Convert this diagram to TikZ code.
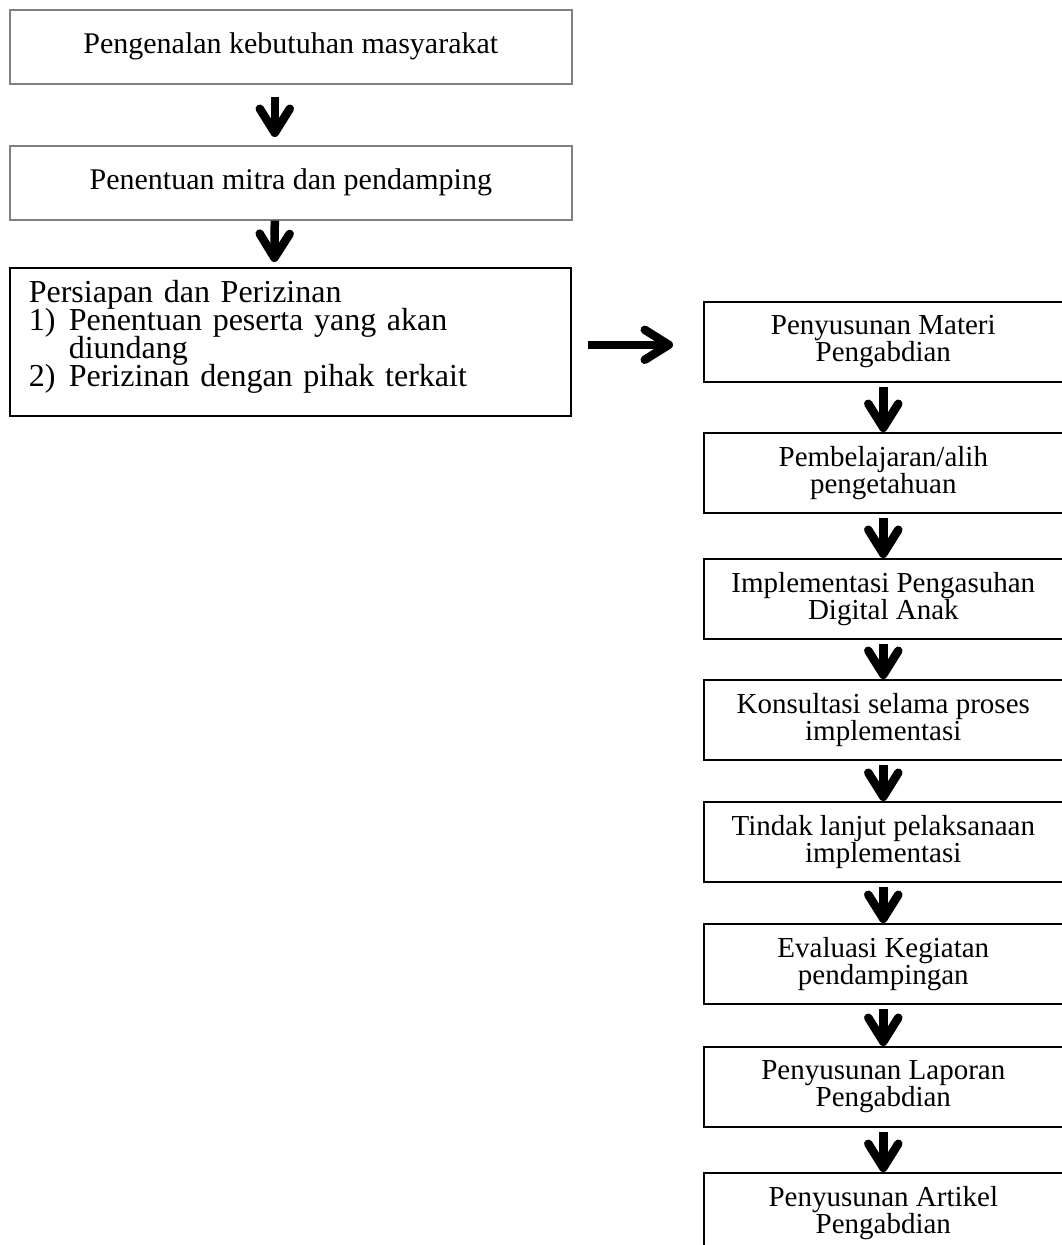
\documentclass[tikz,border=0pt]{standalone}
\usepackage{fontspec}
\setmainfont{Liberation Serif}
\usetikzlibrary{arrows.meta}
\newcommand{\tightlines}{\lineskiplimit=-20pt\relax}

\begin{document}
\begin{tikzpicture}[x=1pt, y=-1pt,
    topbox/.style={draw=black!50, line width=1.6pt, minimum width=562pt,
      minimum height=74pt, anchor=north west, inner sep=0pt,
      font=\fontsize{30}{28}\selectfont},
    listbox/.style={draw, line width=1.6pt, minimum width=561pt,
      minimum height=148pt, text width=523pt, inner xsep=19pt, align=left,
      anchor=north west, font=\fontsize{32}{28}\selectfont\tightlines},
    stepbox/.style={draw, line width=1.6pt, minimum width=359pt,
      minimum height=80pt, align=center, anchor=north west, inner sep=0pt,
      font=\fontsize{29}{27}\selectfont\tightlines},
    fatarrow/.style={line width=8.5pt,
      -{Straight Barb[length=24pt, width=30pt, round]},
      preaction={draw=black!35, opacity=.45,
        transform canvas={shift={(1.5pt,-2.5pt)}}}}]
    \useasboundingbox (0,0) rectangle (1061,1245) ;
    % left column
    \node[topbox] (l1) at (9,9) { Pengenalan kebutuhan masyarakat } ;
    \node[topbox] (l2) at (9,145) { Penentuan mitra dan pendamping } ;
    \node[listbox] (l3) at (9,267) {
      Persiapan dan Perizinan\\
      \makebox[40pt][l]{1)}Penentuan peserta yang akan\\
      \hspace*{40pt}diundang\\
      \makebox[40pt][l]{2)}Perizinan dengan pihak
      terkait\rule[-16pt]{0pt}{16pt} } ;
    \draw[fatarrow, shorten <=12pt, shorten >=8pt] ([xshift=-16pt]l1.south)
      -- ([xshift=-16pt]l2.north) ;
    \draw[fatarrow, shorten <=0pt, shorten >=5pt] ([xshift=-16pt]l2.south)
      -- ([xshift=-16pt]l3.north) ;
    % right column
    \foreach \i/\y/\t in {1/301/{Penyusunan Materi\\Pengabdian},
      2/432/{Pembelajaran/alih\\pengetahuan},
      3/558/{Implementasi Pengasuhan\\Digital Anak},
      4/679/{Konsultasi selama proses\\implementasi},
      5/801/{Tindak lanjut pelaksanaan\\implementasi},
      6/923/{Evaluasi Kegiatan\\pendampingan},
      7/1046/{Penyusunan Laporan\\Pengabdian},
      8/1172/{Penyusunan Artikel\\Pengabdian}} {
      \node[stepbox] (r\i) at (703,\y) { \t } ;
    }
    \foreach \i [remember=\i as \last (initially 1)] in {2,...,8} {
      \draw[fatarrow, shorten <=4pt] (r\last.south) -- (r\i.north) ;
    }
    \draw[fatarrow, shorten <=16pt, shorten >=30pt] ([yshift=-3pt]l3.east)
      -- ([yshift=-3pt]r1.west) ;
  \end{tikzpicture}
\end{document}
